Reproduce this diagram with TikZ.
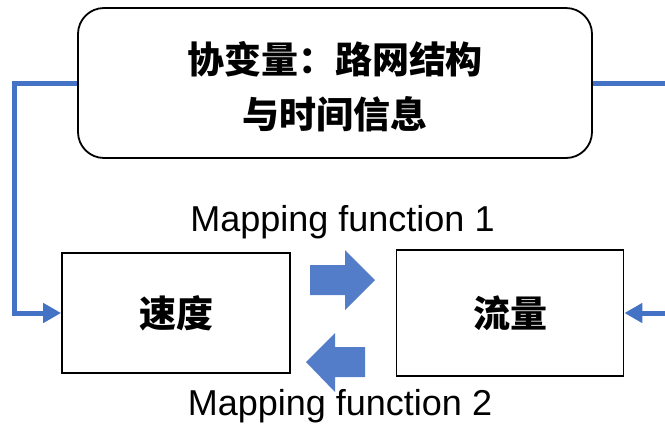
\documentclass[tikz,border=0pt]{standalone}
\usepackage{fontspec}
\setmainfont{Noto Sans CJK SC}
\newfontfamily\latinfont{Liberation Sans}
\usetikzlibrary{arrows.meta}
\definecolor{blu}{HTML}{4472C4}
\begin{document}
\begin{tikzpicture}[x=1pt,y=-1pt,
  boxstyle/.style={draw=black,line width=1.8pt,fill=white,inner sep=0pt,align=center,
    font=\fontsize{37}{55}\selectfont\bfseries},
  txt/.style={inner sep=0pt,align=center,font=\fontsize{37}{55}\selectfont\bfseries},
  conn/.style={draw=blu,line width=5pt,-{Triangle[length=18pt,width=19pt]}},
  blockarrow/.style={fill=blu!92!white},
  lab/.style={font=\latinfont\fontsize{36}{38}\selectfont,inner sep=0pt,anchor=base}]
\clip (0,0) rectangle (665,424);
\fill[white] (0,0) rectangle (665,424);
\node[boxstyle,rounded corners=26pt,minimum width=514pt,minimum height=150pt] (cov) at (335,83) {};
\node[txt] (covtext) at (335,87) {协变量：路网结构\\与时间信息};
\node[boxstyle,minimum width=228pt,minimum height=120pt] (speed) at (176,313) {速度};
\node[boxstyle,minimum width=227pt,minimum height=126pt] (flow) at (510,313) {流量};
\coordinate (lc) at (14,83);
\coordinate (rc) at (672,83);
\draw[conn] (cov.west) -- (lc) |- (speed.west);
\draw[conn] (cov.east) -- (rc) |- (flow.east);
\fill[blockarrow] (310,265) -- (345,265) -- (345,250) -- (375,280) -- (345,310) -- (345,295) -- (310,295) -- cycle;
\fill[blockarrow] (365,347) -- (335,347) -- (335,333) -- (306,362) -- (335,392) -- (335,377) -- (365,377) -- cycle;
\node[lab] (m1) at (342.5,231) {Mapping function 1};
\node[lab] (m2) at (340,415) {Mapping function 2};
\end{tikzpicture}
\end{document}
